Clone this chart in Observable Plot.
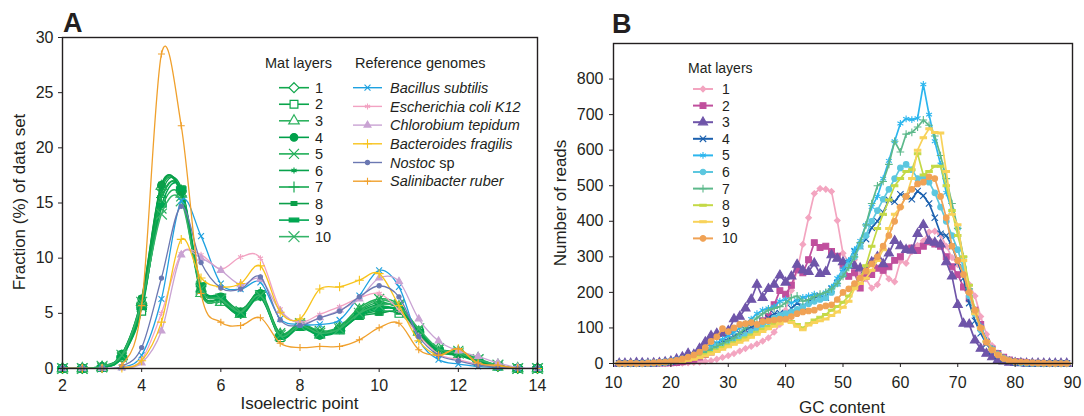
<!DOCTYPE html>
<html><head><meta charset="utf-8">
<script src="https://cdn.jsdelivr.net/npm/d3@7"></script>
<script src="https://cdn.jsdelivr.net/npm/@observablehq/plot@0.6"></script>
<style>
body{margin:0;background:#fff;}
#wrap{position:relative;width:1084px;height:416px;background:#fff;}
#wrap svg{position:absolute;top:0;}
</style></head><body><div id="wrap"></div>
<script>
// ---------- Panel A data (isoelectric point distribution) ----------
const pI = [2,2.5,3,3.5,4,4.5,5,5.5,6,6.5,7,7.5,8,8.5,9,9.5,10,10.5,11,11.5,12,12.5,13,13.5,14];
const mat1  = [0,0,0.1,1.0,5.9,16.3,16.0,7.0,6.2,5.0,6.6,3.0,3.9,3.2,3.6,5.0,5.6,5.3,3.3,1.6,1.3,0.6,0.2,0,0];
const mat2  = [0,0,0.1,1.2,5.2,15.3,16.2,7.3,6.4,5.0,6.7,2.8,3.8,3.1,3.5,4.8,5.2,5.0,3.4,1.7,1.4,0.6,0.2,0,0];
const mat3  = [0,0,0.1,1.1,6.0,16.5,15.8,6.8,6.0,4.9,6.5,3.1,4.0,3.3,3.7,5.3,6.2,5.6,3.3,1.8,1.5,0.9,0.3,0,0];
const mat4  = [0,0,0.2,1.3,6.3,16.6,16.0,7.2,6.5,5.1,6.8,3.0,3.9,3.0,3.6,5.1,5.8,5.5,3.2,1.6,1.3,0.7,0.2,0,0];
const mat5  = [0,0,0.1,1.0,5.6,14.5,15.6,7.5,6.3,5.2,6.6,3.2,4.1,3.4,3.8,5.5,6.3,5.8,3.5,1.7,1.6,0.8,0.3,0,0];
const mat6  = [0,0,0.1,1.2,6.1,15.9,16.4,7.1,6.1,4.8,6.4,2.9,3.8,3.2,3.6,4.9,5.5,5.2,3.1,1.5,1.2,0.6,0.2,0,0];
const mat7  = [0,0,0.2,1.1,5.8,15.5,16.1,6.9,6.2,5.0,6.9,3.1,4.0,3.1,3.7,5.2,6.0,5.4,3.3,1.6,1.4,0.7,0.2,0,0];
const mat8  = [0,0,0.1,1.3,6.4,16.7,15.9,7.4,6.6,5.3,6.7,3.0,3.9,3.3,3.5,4.7,5.0,5.1,3.2,1.5,1.3,0.6,0.2,0,0];
const mat9  = [0,0,0.1,1.0,5.5,14.8,16.3,7.6,6.4,4.9,6.5,2.8,3.7,3.0,3.4,4.8,5.4,5.3,3.4,1.7,1.5,0.7,0.3,0,0];
const mat10 = [0,0,0.2,1.2,6.0,14.0,15.2,7.2,6.3,5.1,6.6,3.0,3.9,3.2,3.6,5.0,5.7,5.6,3.6,1.8,1.4,0.8,0.3,0,0];
const bacillus     = [0,0,0,0.1,1.2,6.3,15.2,12.0,7.7,7.2,7.8,4.5,4.0,4.0,4.4,6.6,8.9,7.4,2.6,0.8,0.4,0.2,0.1,0,0];
const ecoli        = [0,0,0,0.1,0.8,5.0,10.4,10.3,9.0,10.1,10.0,5.4,4.2,4.9,5.6,6.4,6.8,5.3,3.0,1.3,0.8,0.4,0.2,0,0];
const chlorobium   = [0,0,0,0.05,0.5,3.4,10.3,10.0,8.9,7.6,8.1,5.2,4.1,4.6,5.3,6.3,8.2,7.9,4.5,2.5,1.6,1.1,0.5,0.1,0];
const bacteroides  = [0,0,0,0.05,0.7,4.2,11.7,8.2,7.4,7.7,9.3,5.1,4.5,7.2,7.4,8.0,8.6,5.7,2.5,1.2,1.8,0.4,0.2,0,0];
const nostoc       = [0,0,0,0.2,1.9,8.2,14.7,9.6,7.3,7.2,8.3,4.4,3.9,4.6,5.2,6.5,7.5,6.5,2.9,1.2,0.7,0.3,0.1,0,0];
const salinibacter = [0,0,0,0.3,5.7,28.5,22.0,6.8,4.2,3.9,4.6,2.3,1.9,2.0,2.0,2.6,3.7,4.1,1.7,1.2,1.8,0.5,0.3,0,0];
const pITicks = [2,4,6,8,10,12,14];
const fracTicks = [0,5,10,15,20,25,30];
const matLabels = ["1","2","3","4","5","6","7","8","9","10"];
const refLabels = ["Bacillus subtilis","Escherichia coli K12","Chlorobium tepidum","Bacteroides fragilis","Nostoc","Salinibacter ruber"];

// ---------- Panel B data (GC content of reads) ----------
const gc = [11,12,13,14,15,16,17,18,19,20,21,22,23,24,25,26,27,28,29,30,31,32,33,34,35,36,37,38,39,40,
  41,42,43,44,45,46,47,48,49,50,51,52,53,54,55,56,57,58,59,60,61,62,63,64,65,66,67,68,69,70,
  71,72,73,74,75,76,77,78,79,80,81,82,83,84,85,86,87,88,89];
const reads1 = [0,0,0,0,0,0,0,0,0,0, 1,1,2,3,4,6,8,12,17,22, 28,35,42,48,55,63,72,88,110,150,
  205,262,335,410,478,492,490,484,402,310, 285,292,252,238,212,222,262,238,230,288,
  282,315,332,345,370,372,362,330,298,278, 250,222,190,132,82,50,30,18,10,6, 3,2,1,0,0,0,0,0,0];
const reads2 = [0,0,0,0,0,0,0,1,1,2, 3,5,8,12,18,25,32,40,50,58, 65,72,80,92,102,120,132,165,205,195,
  220,265,255,292,340,326,330,315,302,276, 245,255,212,245,250,268,262,272,290,300,
  322,325,318,330,342,336,330,300,272,250, 215,182,150,110,60,40,28,18,10,6, 4,2,1,1,0,0,0,0,0];
const reads3 = [0,0,0,2,1,0,1,2,4,6, 12,18,28,25,42,60,78,84,84,92, 125,132,155,180,222,185,210,222,248,228,
  245,278,262,258,282,252,258,305,295,285, 280,275,268,262,285,300,280,310,345,330,
  320,318,365,390,345,340,335,285,245,165, 112,110,65,42,28,18,10,6,3,2, 1,0,0,0,0,0,0,0,0];
const reads4 = [0,0,0,0,0,1,1,2,3,5, 8,12,17,22,28,35,45,55,60,68, 76,85,95,102,110,118,128,140,142,138,
  155,170,160,175,185,190,186,210,226,255, 282,315,330,350,382,400,425,460,455,476,
  470,462,485,472,450,410,365,360,330,285, 240,170,120,85,55,35,22,12,7,4, 2,1,0,0,0,0,0,0,0];
const reads5 = [1,0,0,0,1,1,2,3,5,7, 10,14,18,24,30,38,48,58,68,78, 88,100,112,125,140,150,155,160,175,180,
  170,178,186,190,195,190,200,215,240,265, 290,320,345,390,440,470,520,570,625,675,
  688,686,690,785,700,625,560,480,430,380, 290,200,150,105,65,42,28,16,9,5, 3,2,1,0,0,0,0,0,0];
const reads6 = [0,0,1,0,0,1,1,2,3,5, 8,11,15,20,26,32,40,48,52,58, 65,72,80,90,100,110,118,128,135,140,
  145,152,160,168,175,180,185,200,225,250, 275,300,330,360,400,430,462,490,520,550,
  560,545,520,525,510,480,440,400,360,320, 270,190,140,95,60,40,25,15,8,4, 2,1,1,0,0,0,0,0,0];
const reads7 = [0,0,0,0,0,1,1,2,3,5, 7,10,14,19,25,32,40,48,56,64, 72,85,100,115,128,140,150,155,160,170,
  185,190,175,180,188,195,200,210,225,245, 270,300,340,390,450,500,512,560,625,595,
  645,650,665,685,670,640,585,520,450,380, 300,210,150,100,62,40,26,15,8,5, 3,2,1,1,0,0,0,0,0];
const reads8 = [0,0,0,0,0,0,1,1,2,3, 5,7,10,14,19,25,31,38,45,52, 58,65,72,80,88,96,104,112,120,122,
  118,110,100,112,122,130,138,150,160,172, 190,215,240,275,330,380,420,460,500,520,
  540,545,590,530,540,555,555,500,430,360, 300,220,150,100,62,40,26,15,8,5, 3,2,1,1,0,0,0,0,0];
const reads9 = [0,0,0,0,0,0,0,1,2,3, 4,6,9,12,16,21,27,34,40,47, 54,60,66,74,82,90,98,105,112,120,
  115,105,95,108,115,120,125,135,145,158, 175,210,225,240,262,290,320,380,420,440,
  470,520,600,635,660,650,648,540,420,390, 290,200,140,100,62,40,25,14,8,5, 3,2,1,1,0,0,1,0,0];
const reads10 = [0,0,1,0,0,1,2,3,4,6, 9,13,18,24,32,45,62,75,98,90, 100,110,112,115,110,118,120,122,125,125,
  132,140,145,148,150,158,162,165,180,200, 210,225,240,260,280,300,330,360,400,440,
  470,490,505,510,525,520,470,410,330,290, 250,200,150,100,60,38,24,14,8,5, 4,3,2,1,1,0,0,0,0];
const gcTicks = [10,20,30,40,50,60,70,80,90];
const readTicks = [0,100,200,300,400,500,600,700,800];

// ---------- styles ----------
const FONT = '"Liberation Sans", Arial, Helvetica, sans-serif';
const INK = "#231f20";
const bar8 = {draw(c,s){const r=Math.sqrt(s/Math.PI);c.moveTo(-1.5*r,-r);c.lineTo(1.5*r,-r);c.lineTo(1.5*r,r);c.lineTo(-1.5*r,r);c.closePath();}};
const bar9 = {draw(c,s){const r=Math.sqrt(s/Math.PI);c.moveTo(-2.5*r,-r);c.lineTo(2.5*r,-r);c.lineTo(2.5*r,r);c.lineTo(-2.5*r,r);c.closePath();}};
const dash = {draw(c,s){const r=Math.sqrt(s/Math.PI);c.moveTo(-2*r,-0.6*r);c.lineTo(2*r,-0.6*r);c.lineTo(2*r,0.6*r);c.lineTo(-2*r,0.6*r);c.closePath();}};

const matSeries = [mat1,mat2,mat3,mat4,mat5,mat6,mat7,mat8,mat9,mat10];
const matColors = ["#12a84e","#0aa54b","#2db25f","#00a04a","#1fae57","#08a24c","#16a851","#0b9f49","#00a651","#34b468"];
const matStyle = [
  {sym:d3.symbolDiamond2, r:4.5, fill:"white"},
  {sym:d3.symbolSquare, r:4.4, fill:"white"},
  {sym:d3.symbolTriangle, r:3.9, fill:"white"},
  {sym:d3.symbolCircle, r:3.8, fill:"color"},
  {sym:d3.symbolTimes, r:4.6, fill:"none"},
  {sym:d3.symbolAsterisk, r:2.8, fill:"none"},
  {sym:d3.symbolPlus, r:3.6, fill:"none"},
  {sym:bar8, r:1.9, fill:"color"},
  {sym:bar9, r:1.9, fill:"color"},
  {sym:d3.symbolTimes, r:5, fill:"none"}
];
const refSeries = [bacillus,ecoli,chlorobium,bacteroides,nostoc,salinibacter];
const refColors = ["#1ea1e0","#f2a2c2","#c9a3d3","#f8c31c","#6b78b2","#f0a02c"];
const refStyle = [
  {sym:d3.symbolTimes, r:2.8, fill:"none"},
  {sym:d3.symbolAsterisk, r:2.8, fill:"none"},
  {sym:d3.symbolTriangle, r:2.6, fill:"color"},
  {sym:d3.symbolPlus, r:3.0, fill:"none"},
  {sym:d3.symbolCircle, r:2.1, fill:"color"},
  {sym:d3.symbolPlus, r:2.4, fill:"none"}
];
const readSeries = [reads1,reads2,reads3,reads4,reads5,reads6,reads7,reads8,reads9,reads10];
const readColors = ["#f3a5c0","#c04f9d","#6f55a9","#1b60ae","#2cb6ee","#5cc7df","#5db98b","#c4d946","#f8d25a","#f0a255"];
const readStyle = [
  {sym:d3.symbolDiamond2, r:2.6, fill:"color"},
  {sym:d3.symbolSquare, r:3.3, fill:"color"},
  {sym:d3.symbolTriangle, r:3.4, fill:"color"},
  {sym:d3.symbolTimes, r:3.0, fill:"none"},
  {sym:d3.symbolAsterisk, r:3.2, fill:"none"},
  {sym:d3.symbolCircle, r:2.8, fill:"color"},
  {sym:d3.symbolPlus, r:2.6, fill:"none"},
  {sym:dash, r:1.6, fill:"color"},
  {sym:dash, r:1.6, fill:"color"},
  {sym:d3.symbolCircle, r:2.8, fill:"color"}
];
const fillOf = (st,c) => st.fill === "color" ? c : st.fill;

function seriesMarks(xs, ys, color, st, opts){
  const data = xs.map((x,i)=>({x, y: ys[i]}));
  return [
    Plot.line(data,{x:"x",y:"y",stroke:color,strokeWidth:opts.lw,curve:opts.curve,tension:0,clip:true}),
    Plot.dot(data,{x:"x",y:"y",symbol:st.sym,r:st.r,stroke:color,fill:fillOf(st,color),strokeWidth:opts.sw})
  ];
}

// ---------- Panel A ----------
const marksA = [];
matSeries.forEach((s,i)=>marksA.push(...seriesMarks(pI,s,matColors[i],matStyle[i],{lw:1.5,sw:1.2,curve:"cardinal"})));
refSeries.forEach((s,i)=>marksA.push(...seriesMarks(pI,s,refColors[i],refStyle[i],{lw:1.3,sw:1.1,curve:"cardinal"})));
marksA.push(Plot.frame({stroke:INK,strokeWidth:1.4}));
marksA.push(Plot.axisX({ticks:pITicks,tickSize:4,tickPadding:7,label:null}));
marksA.push(Plot.axisY({ticks:fracTicks,tickSize:4,tickPadding:5,label:null}));

const plotA = Plot.plot({
  width:545, height:416, marginLeft:62, marginRight:8, marginTop:37, marginBottom:48,
  x:{domain:[2,14]}, y:{domain:[0,30]},
  style:{fontFamily:FONT,fontSize:"16px",color:INK,background:"transparent",overflow:"visible"},
  marks:marksA
});
plotA.style.left = "0px";
document.getElementById("wrap").appendChild(plotA);

// ---------- Panel B ----------
const marksB = [];
readSeries.forEach((s,i)=>marksB.push(...seriesMarks(gc,s,readColors[i],readStyle[i],{lw:1.7,sw:1.1,curve:"linear"})));
marksB.push(Plot.frame({stroke:INK,strokeWidth:1.4}));
marksB.push(Plot.axisX({ticks:gcTicks,tickSize:4,tickPadding:9,label:null}));
marksB.push(Plot.axisY({ticks:readTicks,tickSize:4,tickPadding:6,label:null}));

const plotB = Plot.plot({
  width:539, height:416, marginLeft:68, marginRight:12, marginTop:43, marginBottom:53,
  x:{domain:[10,90]}, y:{domain:[0,900]},
  style:{fontFamily:FONT,fontSize:"16px",color:INK,background:"transparent",overflow:"visible"},
  marks:marksB
});
plotB.style.left = "545px";
document.getElementById("wrap").appendChild(plotB);

// ---------- overlay: panel letters, axis titles, legends ----------
const ov = d3.select("#wrap").append("svg")
  .attr("width",1084).attr("height",416)
  .style("position","absolute").style("left","0px").style("top","0px")
  .attr("font-family",FONT).attr("fill",INK);

ov.append("text").attr("x",63).attr("y",32).attr("font-size",27).attr("font-weight","bold").text("A");
ov.append("text").attr("x",612).attr("y",33).attr("font-size",27).attr("font-weight","bold").text("B");
ov.append("text").attr("x",299.5).attr("y",409).attr("font-size",17).attr("text-anchor","middle").text("Isoelectric point");
ov.append("text").attr("transform","translate(25,202) rotate(-90)").attr("font-size",17).attr("text-anchor","middle").text("Fraction (%) of data set");
ov.append("text").attr("x",842).attr("y",413).attr("font-size",17).attr("text-anchor","middle").text("GC content");
ov.append("text").attr("transform","translate(566,203) rotate(-90)").attr("font-size",17).attr("text-anchor","middle").text("Number of reads");

function entry(x1,x2,y,color,st,lw,sw){
  ov.append("line").attr("x1",x1).attr("x2",x2).attr("y1",y).attr("y2",y).attr("stroke",color).attr("stroke-width",lw);
  ov.append("path").attr("d",d3.symbol(st.sym,Math.PI*st.r*st.r)())
    .attr("transform",`translate(${(x1+x2)/2},${y})`)
    .attr("fill",fillOf(st,color)).attr("stroke",color).attr("stroke-width",sw);
}
// Panel A legends
ov.append("text").attr("x",265).attr("y",68).attr("font-size",14.5).text("Mat layers");
matLabels.forEach((lab,i)=>{
  const y = 87.7 + i*16.55;
  entry(279,309,y,matColors[i],matStyle[i],1.6,1.2);
  ov.append("text").attr("x",315).attr("y",y).attr("dy","0.36em").attr("font-size",14.5).text(lab);
});
ov.append("text").attr("x",355).attr("y",68).attr("font-size",14.5).text("Reference genomes");
refLabels.forEach((lab,i)=>{
  const y = 87.7 + i*18.7;
  entry(353,382,y,refColors[i],refStyle[i],1.4,1.1);
  const t = ov.append("text").attr("x",390).attr("y",y).attr("dy","0.36em").attr("font-size",14.5);
  t.append("tspan").attr("font-style","italic").text(lab);
  if (lab === "Nostoc") t.append("tspan").text(" sp");
});
// Panel B legend
ov.append("text").attr("x",688).attr("y",73).attr("font-size",14).text("Mat layers");
matLabels.forEach((lab,i)=>{
  const y = 89 + i*16.6;
  entry(693,713,y,readColors[i],readStyle[i],2,1.1);
  ov.append("text").attr("x",722).attr("y",y).attr("dy","0.36em").attr("font-size",14).text(lab);
});
</script></body></html>
